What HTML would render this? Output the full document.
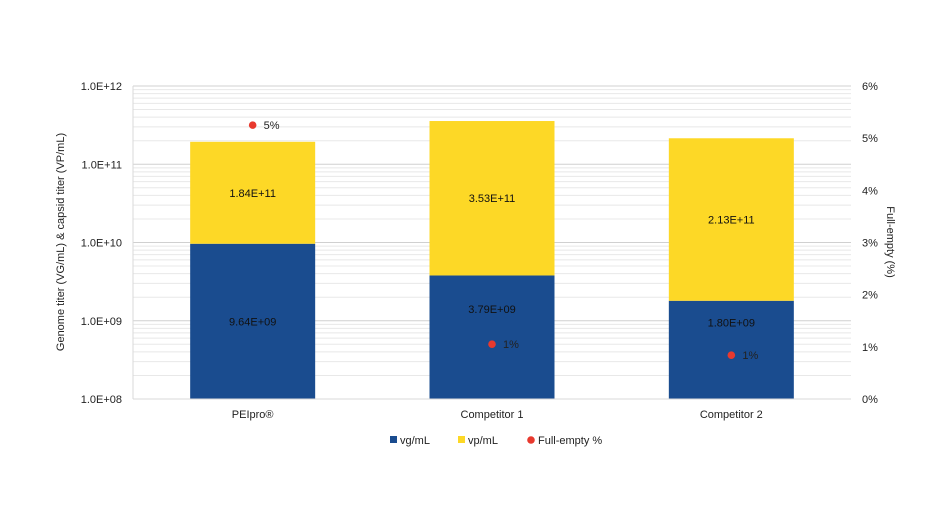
<!DOCTYPE html>
<html><head><meta charset="utf-8"><style>
html,body{margin:0;padding:0;background:#fff;}
svg text{font-family:"Liberation Sans",sans-serif;}
</style></head><body>
<svg width="936" height="520" viewBox="0 0 936 520" xmlns="http://www.w3.org/2000/svg">
<g id="grid"></g>
<g id="bars"></g>
<g id="axes"></g>
<text x="0" y="0" transform="translate(64,242) rotate(-90)" text-anchor="middle" font-size="11" fill="#222">Genome titer (VG/mL) &amp; capsid titer (VP/mL)</text>
<text x="0" y="0" transform="translate(887,242) rotate(90)" text-anchor="middle" font-size="11" fill="#222">Full-empty (%)</text>
<g>
<rect x="390" y="436" width="7" height="7" fill="#1a4c8f"/>
<text x="400" y="444" font-size="11" fill="#222">vg/mL</text>
<rect x="458" y="436" width="7" height="7" fill="#fdd826"/>
<text x="468" y="444" font-size="11" fill="#222">vp/mL</text>
<circle cx="531" cy="440" r="3.8" fill="#e8392e"/>
<text x="538" y="444" font-size="11" fill="#222">Full-empty %</text>
</g>
</svg>
<script>
const categories=["PEIpro®","Competitor 1","Competitor 2"];
const vg=[9.64e9,3.79e9,1.80e9];
const vp=[1.84e11,3.53e11,2.13e11];
const vgLabels=["9.64E+09","3.79E+09","1.80E+09"];
const vpLabels=["1.84E+11","3.53E+11","2.13E+11"];
const fullEmpty=[5.25,1.05,0.84];
const feLabels=["5%","1%","1%"];
const leftTicks=["1.0E+08","1.0E+09","1.0E+10","1.0E+11","1.0E+12"];
const rightTicks=["0%","1%","2%","3%","4%","5%","6%"];
const NS="http://www.w3.org/2000/svg";
const X0=133,X1=851,Y0=399,Y1=86;
const yL=v=>Y0-(Math.log10(v)-8)/4*(Y0-Y1);
const yR=p=>Y0-p/6*(Y0-Y1);
const band=(X1-X0)/categories.length;
const xc=i=>X0+band*(i+0.5);
const BW=125;
const vgLabelFrac=[0.5,0.27,0.22];
function mk(tag,attrs,parent,text){const e=document.createElementNS(NS,tag);for(const k in attrs)e.setAttribute(k,attrs[k]);if(text!==undefined)e.textContent=text;parent.appendChild(e);return e;}
const gridG=document.getElementById('grid'),barsG=document.getElementById('bars'),axesG=document.getElementById('axes');
for(let d=8;d<12;d++){for(let m=1;m<10;m++){const y=yL(m*Math.pow(10,d));const l=mk('line',{x1:X0,x2:X1,y1:y,y2:y,stroke:m===1?'#d0d0d0':'#e8e8e8','stroke-width':1},gridG);

}}
const topLine=mk('line',{x1:X0,x2:X1,y1:Y1,y2:Y1,stroke:'#d0d0d0'},gridG);


const vl=mk('line',{x1:X0,x2:X0,y1:Y1,y2:Y0,stroke:'#d9d9d9'},axesG);


const bl=mk('line',{x1:X0,x2:X1,y1:Y0,y2:Y0,stroke:'#d9d9d9'},axesG);


leftTicks.forEach((t,i)=>{const e=mk('text',{x:X0-11,y:yL(Math.pow(10,8+i))+4,'text-anchor':'end','font-size':11,fill:'#222'},axesG,t);

});
rightTicks.forEach((t,i)=>{const e=mk('text',{x:X1+11,y:yR(i)+4,'text-anchor':'start','font-size':11,fill:'#222'},axesG,t);

});
categories.forEach((c,i)=>{
const x=xc(i)-BW/2;
const yv=yL(vg[i]),yt=yL(vg[i]+vp[i]);
const b1=mk('rect',{x:x,y:yv,width:BW,height:Y0-yv,fill:'#1a4c8f'},barsG);


const b2=mk('rect',{x:x,y:yt,width:BW,height:yv-yt,fill:'#fdd826'},barsG);


const l1=mk('text',{x:xc(i),y:yv+(Y0-yv)*vgLabelFrac[i]+4,'text-anchor':'middle','font-size':11,fill:'#111'},barsG,vgLabels[i]);


const l2=mk('text',{x:xc(i),y:(yt+yv)/2+4,'text-anchor':'middle','font-size':11,fill:'#111'},barsG,vpLabels[i]);


const yd=yR(fullEmpty[i]);
const d=mk('circle',{cx:xc(i),cy:yd,r:3.8,fill:'#e8392e'},barsG);


const dl=mk('text',{x:xc(i)+11,y:yd+4,'font-size':11,fill:'#222'},barsG,feLabels[i]);


const cl=mk('text',{x:xc(i),y:418,'text-anchor':'middle','font-size':11,fill:'#222'},axesG,c);


});
</script>
</body></html>
